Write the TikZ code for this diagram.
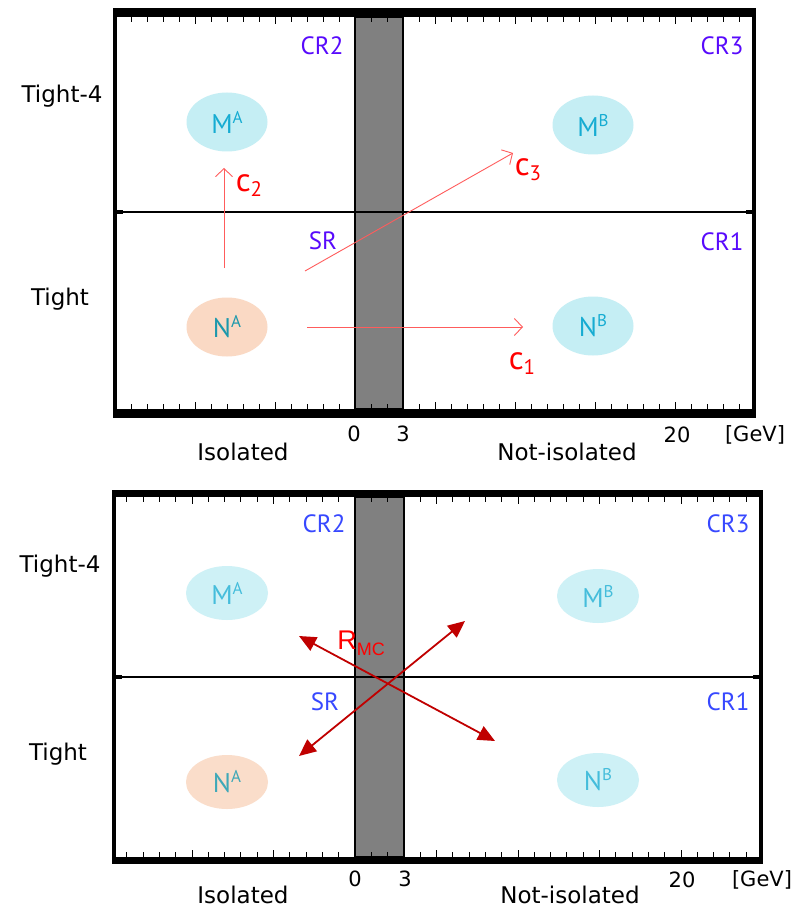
\documentclass[tikz,border=0pt]{standalone}
\usepackage{fontspec}
\setmainfont{DejaVu Sans}
\newfontfamily\regfont{PT Sans}
\newfontfamily\rmcfont{Liberation Sans}
\usetikzlibrary{arrows.meta,shapes.geometric}
\definecolor{bandgray}{RGB}{128,128,128}
\definecolor{regviolet}{RGB}{88,10,252}
\definecolor{regblue}{RGB}{55,72,255}
\definecolor{ellcyan}{RGB}{197,238,244}
\definecolor{ellpeach}{RGB}{250,217,196}
\definecolor{txtcyan}{RGB}{22,172,210}
\definecolor{txtteal}{RGB}{28,152,172}
\definecolor{corrpink}{RGB}{255,92,92}
\definecolor{rmcred}{RGB}{192,0,0}
\newcommand{\fsz}[1]{\fontsize{#1}{#1}\selectfont}
\newcommand{\smpl}[2]{#1\raisebox{10pt}{\fsz{17}#2}}
\newcommand{\corr}[1]{{\fsz{33}c}\raisebox{-5pt}{\fsz{21}#1}}
\tikzset{
  axislabel/.style={font=\fsz{23}},
  numlabel/.style={font=\fsz{21}},
  regtop/.style={font=\regfont\fsz{25},text=regviolet},
  regbot/.style={font=\regfont\fsz{25},text=regblue},
  sample/.style={ellipse,minimum width=81pt,minimum height=59pt,inner sep=0pt,
    fill=ellcyan,text=txtcyan,font=\regfont\fsz{27}},
  corrlabel/.style={font=\regfont,text=red},
  corrarrow/.style={draw=corrpink,line width=.9pt,-{Straight Barb[length=8pt,width=17pt]}},
  rmcarrow/.style={draw=rmcred,line width=1.8pt,
    {Triangle[length=17pt,width=15pt]}-{Triangle[length=17pt,width=15pt]}},
  tickmark/.style={line width=1pt}
}
\begin{document}
\begin{tikzpicture}[x=1pt,y=-1pt,line cap=butt,line join=miter]
\useasboundingbox[fill=white] (0,0) rectangle (792,909);
\begin{scope}
  \filldraw[fill=bandgray,draw=black,line width=2.6pt] (355,17) rectangle (403,409);
  \fill (113,8) rectangle (756,17);
  \fill (113,409) rectangle (756,418);
  \fill (113,8) rectangle (117,418);
  \fill (752,8) rectangle (756,418);
  \foreach \g in {-14,...,24}{
    \pgfmathsetmacro{\tl}{ifthenelse(mod(\g,5)==0,7,5)}
    \draw[tickmark] (355+16*\g,17) -- ++(0,\tl);
    \draw[tickmark] (355+16*\g,409) -- ++(0,-\tl);
  }
  \draw[line width=1.8pt] (115,212) -- (754,212);
  \draw[line width=3.5pt] (115,212) -- (123,212);
  \draw[line width=3.5pt] (746,212) -- (754,212);
  \node[regtop] (cr2t) at (322,46) {CR2};
  \node[regtop] (cr3t) at (722,46) {CR3};
  \node[regtop] (srt) at (323,241) {SR};
  \node[regtop] (cr1t) at (722,242) {CR1};
  \node[sample] (mat) at (227,122) {\smpl{M}{A}};
  \node[sample] (mbt) at (593,125) {\smpl{M}{B}};
  \node[sample,fill=ellpeach,text=txtteal] (nat) at (227,327) {\smpl{N}{A}};
  \node[sample] (nbt) at (593,326) {\smpl{N}{B}};
  \coordinate (c2s) at (224,268);
  \coordinate (c2e) at (224,168);
  \coordinate (c3s) at (305,271);
  \coordinate (c3e) at (513,153);
  \coordinate (c1s) at (307,327);
  \coordinate (c1e) at (523,327);
  \draw[corrarrow] (c2s) -- (c2e);
  \draw[corrarrow] (c3s) -- (c3e);
  \draw[corrarrow] (c1s) -- (c1e);
  \node[corrlabel] (c2t) at (249,186) {\corr{2}};
  \node[corrlabel] (c3t) at (528,170) {\corr{3}};
  \node[corrlabel] (c1t) at (522,364) {\corr{1}};
  \node[axislabel] (tight4t) at (62,96) {Tight-4};
  \node[axislabel] (tightt) at (60,299) {Tight};
  \node[axislabel] (isot) at (243,452) {Isolated};
  \node[axislabel] (nisot) at (567,452) {Not-isolated};
  \node[numlabel] (zerot) at (354,434) {0};
  \node[numlabel] (threet) at (403,434) {3};
  \node[numlabel] (twentyt) at (677,435) {20};
  \node[numlabel] (gevt) at (755,435) {[GeV]};
\end{scope}
\begin{scope}
  \filldraw[fill=bandgray,draw=black,line width=1.2pt] (355,497) rectangle (404,857);
  \fill (112,490) rectangle (763,497);
  \fill (112,857) rectangle (763,864);
  \fill (112,490) rectangle (116,864);
  \fill (759,490) rectangle (763,864);
  \foreach \g in {-14,...,24}{
    \pgfmathsetmacro{\tl}{ifthenelse(mod(\g,5)==0,7,5)}
    \draw[tickmark] (355+16.3*\g,497) -- ++(0,\tl);
    \draw[tickmark] (355+16.3*\g,857) -- ++(0,-\tl);
  }
  \draw[line width=1.2pt] (114,677) -- (761,677);
  \draw[line width=3.5pt] (114,677) -- (122,677);
  \draw[line width=3.5pt] (753,677) -- (761,677);
  \node[regbot] (cr2b) at (324,524) {CR2};
  \node[regbot] (cr3b) at (728,524) {CR3};
  \node[regbot] (srb) at (325,702) {SR};
  \node[regbot] (cr1b) at (728,702) {CR1};
  \node[sample,minimum width=82pt,minimum height=54pt,fill=ellcyan!85!white,
    text=txtcyan!80!white] (mab) at (227,593) {\smpl{M}{A}};
  \node[sample,minimum width=82pt,minimum height=54pt,fill=ellcyan!85!white,
    text=txtcyan!80!white] (mbb) at (598,596) {\smpl{M}{B}};
  \node[sample,minimum width=82pt,minimum height=54pt,fill=ellpeach!90!white,
    text=txtteal!85!white] (nab) at (227,782) {\smpl{N}{A}};
  \node[sample,minimum width=82pt,minimum height=54pt,fill=ellcyan!85!white,
    text=txtcyan!80!white] (nbb) at (598,780) {\smpl{N}{B}};
  \coordinate (r1a) at (299,636);
  \coordinate (r1b) at (495,741);
  \coordinate (r2a) at (299,756);
  \coordinate (r2b) at (465,621);
  \draw[rmcarrow] (r1a) -- (r1b);
  \draw[rmcarrow] (r2a) -- (r2b);
  \node[text=red,font=\rmcfont] (rmc) at (361,643)
    {{\fsz{27}R}\raisebox{-6pt}{\fsz{18}MC}};
  \node[axislabel] (tight4b) at (60,566) {Tight-4};
  \node[axislabel] (tightb) at (58,754) {Tight};
  \node[axislabel] (isob) at (243,895) {Isolated};
  \node[axislabel] (nisob) at (570,895) {Not-isolated};
  \node[numlabel] (zerob) at (355,879) {0};
  \node[numlabel] (threeb) at (405,879) {3};
  \node[numlabel] (twentyb) at (682,880) {20};
  \node[numlabel] (gevb) at (762,880) {[GeV]};
\end{scope}
\end{tikzpicture}
\end{document}
